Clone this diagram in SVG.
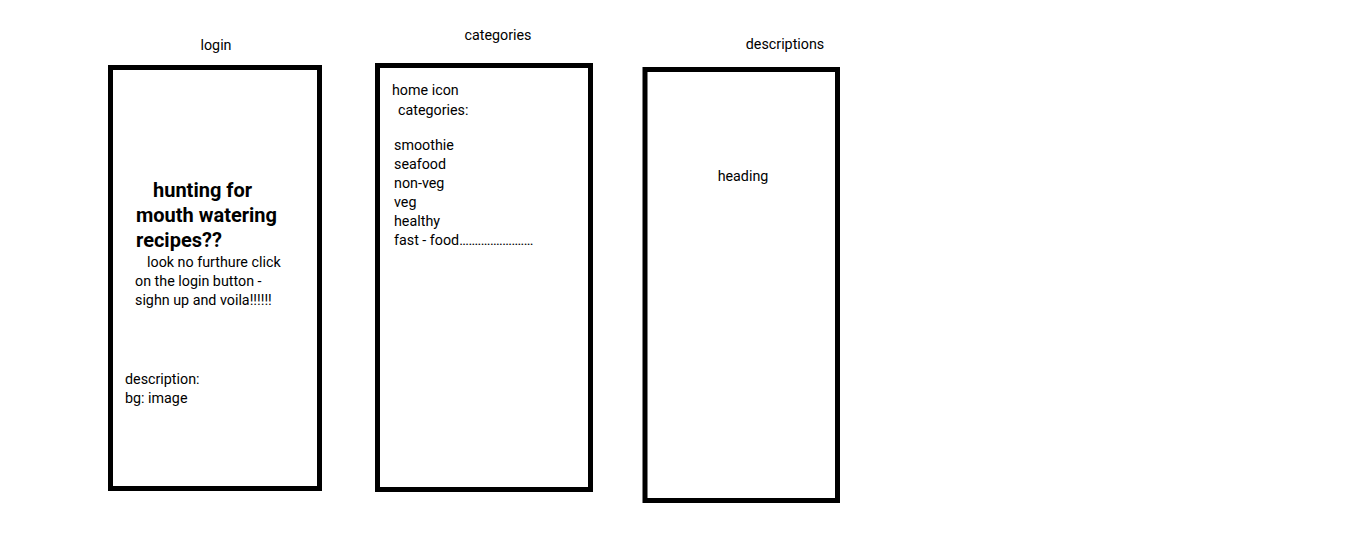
<svg xmlns="http://www.w3.org/2000/svg" width="1360" height="559" viewBox="0 0 1360 559">
<style>
.frame{fill:#fff;stroke:#000;stroke-width:5}
text{font-family:Roboto,"Noto Sans",sans-serif;font-size:14.3px;fill:#000}
.big{font-size:20px;font-weight:bold}
.c{text-anchor:middle}
.dots{letter-spacing:-0.7px}
</style>
<rect width="1360" height="559" fill="#fff"/>
<g id="login">
<text class="c" x="216" y="50">login</text>
<rect class="frame" x="110.5" y="67.5" width="209" height="421"/>
<text class="big" x="153" y="197">hunting for</text>
<text class="big" x="136" y="222">mouth watering</text>
<text class="big" x="136" y="247">recipes??</text>
<text x="147" y="267">look no furthure click</text>
<text x="135" y="286">on the login button -</text>
<text x="135" y="305">sighn up and voila!!!!!!</text>
<text x="125" y="384">description:</text>
<text x="125" y="403">bg: image</text>
</g>
<g id="categories">
<text class="c" x="498" y="40">categories</text>
<rect class="frame" x="377.5" y="65.5" width="213" height="424"/>
<text x="392" y="95">home icon</text>
<text x="398" y="115">categories:</text>
<text x="394" y="150">smoothie</text>
<text x="394" y="169">seafood</text>
<text x="394" y="188">non-veg</text>
<text x="394" y="207">veg</text>
<text x="394" y="226">healthy</text>
<text x="394" y="245">fast - food<tspan class="dots">........................</tspan></text>
</g>
<g id="descriptions">
<text class="c" x="785" y="49">descriptions</text>
<rect class="frame" x="645" y="69.5" width="192.5" height="431"/>
<text class="c" x="743" y="181">heading</text>
</g>
<g id="connectors"></g>
</svg>
